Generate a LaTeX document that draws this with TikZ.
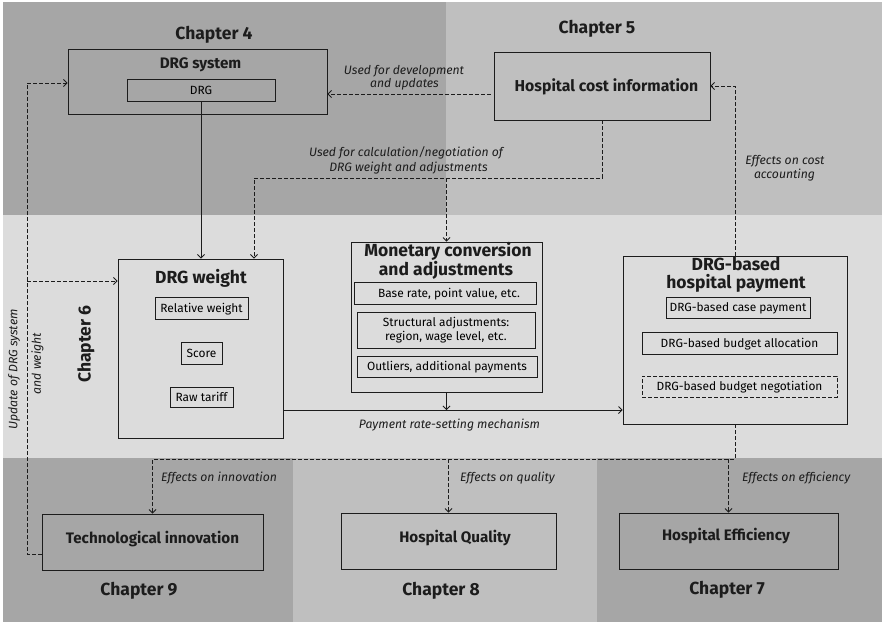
\documentclass[tikz,border=0pt]{standalone}
\usepackage{fontspec}
\setmainfont{Fira Sans}
\usetikzlibrary{arrows.meta}
\definecolor{bandDark}{RGB}{166,166,166}
\definecolor{bandLight}{RGB}{191,191,191}
\definecolor{bandMid}{RGB}{220,220,220}
\definecolor{ink}{RGB}{28,28,28}
\begin{document}
\begin{tikzpicture}[x=1pt,y=-1pt,
  box/.style={draw=ink, line width=0.9pt, rectangle, inner sep=0pt},
  subbox/.style={box, font=\fontsize{11.9}{14.5}\selectfont, align=center, text height=8.2pt, text depth=0pt},
  title/.style={font=\bfseries\fontsize{15.2}{17}\selectfont, text=ink, inner sep=0pt, anchor=base},
  bigtitle/.style={font=\bfseries\fontsize{17.5}{19}\selectfont, text=ink, inner sep=0pt, anchor=base},
  chap/.style={font=\bfseries\fontsize{17.5}{19}\selectfont, text=ink, inner sep=0pt, anchor=base},
  note/.style={font=\itshape\fontsize{12.2}{15}\selectfont, text=ink, inner sep=0pt, anchor=base},
  link/.style={draw=ink, line width=0.8pt},
  dlink/.style={link, dash pattern=on 4pt off 2pt},
  tip/.style={-{Straight Barb[length=3.5pt,width=7pt]}},
]
% background bands
\fill[white] (0,0) rectangle (882,622);
\fill[bandDark] (3,2) rectangle (446,215);
\fill[bandLight] (446,2) rectangle (882,215);
\fill[bandMid] (3,215) rectangle (882,458);
\fill[bandDark] (3,458) rectangle (293,622);
\fill[bandLight] (293,458) rectangle (597,622);
\fill[bandDark] (597,458) rectangle (882,622);
\useasboundingbox (0,0) rectangle (882,622);

% chapter headings
\node[chap] (ch4) at (214,39) {Chapter 4};
\node[chap] (ch5) at (597,33) {Chapter 5};
\node[chap, rotate=90, anchor=center] (ch6) at (86,344) {Chapter 6};
\node[chap] (ch9) at (139,595) {Chapter 9};
\node[chap] (ch8) at (441,595) {Chapter 8};
\node[chap] (ch7) at (727,594.5) {Chapter 7};

% DRG system
\node[box, minimum width=259pt, minimum height=65pt] (drgsys) at (197.5,81.5) {};
\node[title] (drgsysT) at (200.5,68.5) {DRG system};
\node[subbox, minimum width=148pt, minimum height=22pt] (drg) at (201,90) {DRG};

% hospital cost information
\node[box, minimum width=216pt, minimum height=68pt] (hci) at (602,86) {};
\node[title, font=\bfseries\fontsize{15.8}{17}\selectfont] (hciT) at (606.5,91.5) {Hospital cost information};

% DRG weight
\node[box, minimum width=165pt, minimum height=179pt] (drgw) at (200.5,348.5) {};
\node[bigtitle] (drgwT) at (201,283.3) {DRG weight};
\node[subbox, minimum width=93pt, minimum height=22pt] (relw) at (201.5,308) {Relative weight};
\node[subbox, minimum width=41pt, minimum height=22pt] (score) at (201.5,353) {Score};
\node[subbox, minimum width=63pt, minimum height=20pt] (rawt) at (201.5,397) {Raw tariff};

% monetary conversion
\node[box, minimum width=191pt, minimum height=150pt] (mon) at (446.5,317) {};
\node[bigtitle] (monT1) at (448,256.7) {Monetary conversion};
\node[bigtitle] (monT2) at (446,275) {and adjustments};
\node[subbox, minimum width=182pt, minimum height=22pt] (base) at (445,293) {\hspace{8pt}Base rate, point value, etc.};
\node[subbox, minimum width=178pt, minimum height=36pt, text height=, text depth=] (struct) at (446,330) {Structural adjustments:\\region, wage level, etc.};
\node[subbox, minimum width=180pt, minimum height=21pt] (outl) at (447,366.5) {Outliers, additional payments};

% DRG-based hospital payment
\node[box, minimum width=224pt, minimum height=168pt] (pay) at (735,340) {};
\node[bigtitle] (payT1) at (736,270) {DRG-based};
\node[bigtitle] (payT2) at (736,288) {hospital payment};
\node[subbox, minimum width=144pt, minimum height=21pt] (casep) at (738,307.5) {DRG-based case payment};
\node[subbox, minimum width=195pt, minimum height=22pt] (alloc) at (739.5,343) {DRG-based budget allocation};
\node[subbox, dash pattern=on 4pt off 2pt, minimum width=195pt, minimum height=21pt] (nego) at (739.5,386.5) {DRG-based budget negotiation};

% outcome boxes
\node[box, minimum width=221pt, minimum height=56pt] (tech) at (152.5,542) {};
\node[title] (techT) at (152.5,543.3) {Technological innovation};
\node[box, minimum width=215pt, minimum height=56pt] (qual) at (448.5,541) {};
\node[title] (qualT) at (455,542.7) {Hospital Quality};
\node[box, minimum width=219pt, minimum height=56pt] (eff) at (728.5,541) {};
\node[title] (effT) at (726,540) {Hospital Efficiency};

% connector labels
\node[note] (lDev1) at (404,74) {Used for development};
\node[note] (lDev2) at (404.5,87.3) {and updates};
\node[note] (lCalc1) at (406,156.7) {Used for calculation/negotiation of};
\node[note] (lCalc2) at (408.5,171.7) {DRG weight and adjustments};
\node[note] (lCost1) at (785,164.3) {Effects on cost};
\node[note] (lCost2) at (784.5,178) {accounting};
\node[note] (lRate) at (449.5,428) {Payment rate-setting mechanism};
\node[note, anchor=base west] (lInno) at (161,481) {Effects on innovation};
\node[note, anchor=base west] (lQual) at (460,481) {Effects on quality};
\node[note, anchor=base west] (lEff) at (742,481) {Effects on efficiency};
\node[note, rotate=90, anchor=center] (lUpd1) at (14,369.5) {Update of DRG system};
\node[note, rotate=90, anchor=center] (lUpd2) at (37.5,363.5) {and weight};

% routing points
\coordinate (yDev) at (0,94);
\coordinate (calcBend) at (254,178);
\coordinate (yRate) at (0,410);
\coordinate (effBus) at (735,459);
\coordinate (updLow) at (27,554);
\coordinate (updTop) at (27,83);
\coordinate (updMid) at (27,281);

% connectors
\draw[dlink, tip, shorten <=3pt] (hci.west |- yDev) -- (drgsys.east |- yDev);
\draw[link, tip] (drg.south) -- (drg.south |- drgw.north);
\draw[dlink, tip] (hci.south) |- (calcBend) -- (calcBend |- drgw.north);
\draw[dlink, tip] (mon.north |- calcBend) -- (mon.north);
\draw[dlink, tip] (pay.north) |- (hci.east);
\draw[link, tip] (drgw.east |- yRate) -- (pay.west |- yRate);
\draw[link, tip] (mon.south) -- (mon.south |- yRate);
\draw[dlink, tip] (pay.south) -- (effBus) -| (tech.north);
\draw[dlink, tip] (qual.north |- effBus) -- (qual.north);
\draw[dlink, tip] (eff.north |- effBus) -- (eff.north);
\draw[dlink, tip] (tech.west |- updLow) -- (updLow) -- (updTop) -- (drgsys.west |- updTop);
\draw[dlink, tip] (updMid) -- (drgw.west |- updMid);
\end{tikzpicture}
\end{document}
